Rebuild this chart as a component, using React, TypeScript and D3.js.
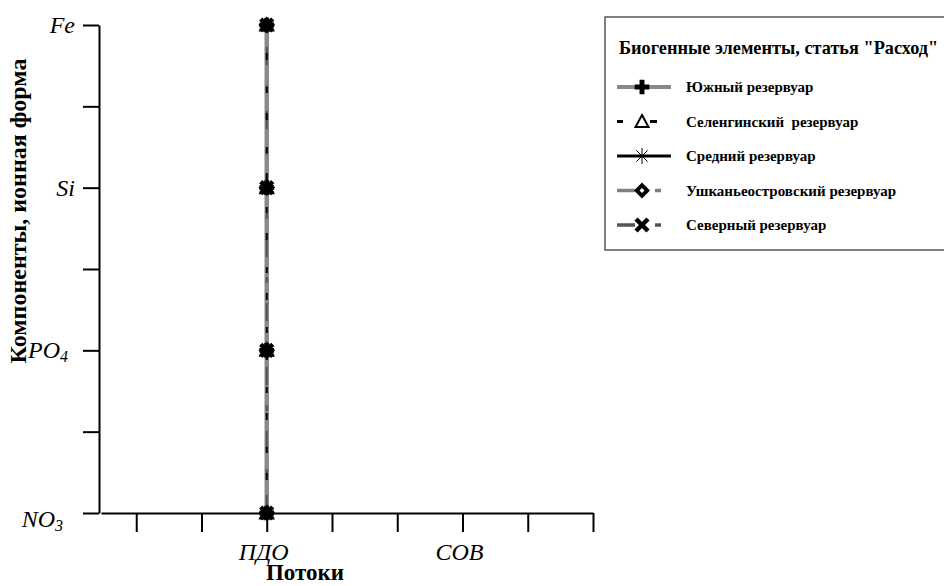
import React, { useRef, useEffect } from 'react';
import * as d3 from 'd3';

// x axis: 8 tick positions, only two are labelled
const flowTicks = ['', '', 'ПДО', '', '', 'СОВ', '', ''];
// y axis: 7 tick positions, every second labelled
const componentTicks = ['NO3', '', 'PO4', '', 'Si', '', 'Fe'];

// every series has one point per component, all on the ПДО flow
const components = ['NO3', 'PO4', 'Si', 'Fe'];
const yuzhny = ['ПДО', 'ПДО', 'ПДО', 'ПДО'];
const selenginsky = ['ПДО', 'ПДО', 'ПДО', 'ПДО'];
const sredny = ['ПДО', 'ПДО', 'ПДО', 'ПДО'];
const ushkany = ['ПДО', 'ПДО', 'ПДО', 'ПДО'];
const severny = ['ПДО', 'ПДО', 'ПДО', 'ПДО'];

const seriesNames = [
  'Южный резервуар',
  'Селенгинский  резервуар',
  'Средний резервуар',
  'Ушканьеостровский резервуар',
  'Северный резервуар',
];
const seriesFlows = [yuzhny, selenginsky, sredny, ushkany, severny];

const legendTitle = 'Биогенные элементы, статья "Расход"';

const serif = 'Liberation Serif';

const styles = [
  { stroke: '#8a8a8a', width: 4, dash: null, marker: 'plus' },
  { stroke: '#000', width: 3, dash: '6,27,7,20', marker: 'triangle' },
  { stroke: '#000', width: 3, dash: null, marker: 'asterisk' },
  { stroke: '#808080', width: 3.5, dash: '18,20,6,20', marker: 'diamond' },
  { stroke: '#555', width: 3.5, dash: '18,20,6,20', marker: 'x' },
];
// order the vertical lines are stacked in the plot (bottom first)
const lineOrder = [2, 0, 3, 4, 1];

function drawMarker(g, kind, cx, cy) {
  const m = g.append('g').attr('transform', `translate(${cx},${cy})`);
  if (kind === 'plus') {
    m.append('path').attr('d', d3.symbol(d3.symbolCross, 120)()).attr('fill', '#000');
  } else if (kind === 'triangle') {
    m.append('path')
      .attr('d', 'M0,-6.5L6.5,5.5L-6.5,5.5Z')
      .attr('fill', '#fff')
      .attr('stroke', '#000')
      .attr('stroke-width', 2);
  } else if (kind === 'asterisk') {
    [0, 45, 90, 135].forEach(a => {
      const r = (a * Math.PI) / 180;
      m.append('line')
        .attr('x1', -8 * Math.cos(r)).attr('y1', -8 * Math.sin(r))
        .attr('x2', 8 * Math.cos(r)).attr('y2', 8 * Math.sin(r))
        .attr('stroke', '#000').attr('stroke-width', 1);
    });
  } else if (kind === 'diamond') {
    m.append('path').attr('d', 'M0,-8L8,0L0,8L-8,0Z').attr('fill', '#000');
    m.append('path').attr('d', 'M0,-2.5L2.5,0L0,2.5L-2.5,0Z').attr('fill', '#fff');
  } else if (kind === 'x') {
    m.append('path')
      .attr('d', 'M-6,-6L6,6M6,-6L-6,6')
      .attr('stroke', '#000')
      .attr('stroke-width', 4.5);
  }
}

const App = () => {
  const ref = useRef(null);

  useEffect(() => {
    const svg = d3.select(ref.current);
    svg.selectAll('*').remove();

    const x = d3.scaleLinear().domain([0.46, flowTicks.length]).range([101, 593]);
    const y = d3.scaleLinear().domain([0, componentTicks.length - 1]).range([513, 25]);
    const xOf = f => x(flowTicks.indexOf(f) + 1);
    const yOf = c => y(componentTicks.indexOf(c));

    // y axis
    svg.append('g')
      .attr('transform', 'translate(99,0)')
      .call(d3.axisLeft(y).tickValues(d3.range(componentTicks.length)).tickSize(16).tickSizeOuter(0).tickFormat(() => ''))
      .call(g => g.selectAll('path, line').attr('stroke', '#000').attr('stroke-width', 2));

    // x axis
    svg.append('g')
      .attr('transform', 'translate(0,513)')
      .call(d3.axisBottom(x).tickValues(d3.range(1, flowTicks.length + 1)).tickSize(19).tickSizeOuter(0).tickFormat(() => ''))
      .call(g => g.selectAll('path, line').attr('stroke', '#000').attr('stroke-width', 2));

    // y tick labels (chemical formulas with subscripts)
    const nudge = { NO3: { x: 63, dy: 14 }, PO4: { x: 68, dy: 8 } };
    componentTicks.forEach((lab, i) => {
      if (!lab) return;
      const n = nudge[lab] || { x: 75, dy: 8 };
      const m = lab.match(/^([A-Za-z]+?)(\d*)$/);
      const t = svg.append('text')
        .attr('x', n.x)
        .attr('y', y(i) + n.dy)
        .attr('text-anchor', 'end')
        .attr('font-family', serif)
        .attr('font-style', 'italic')
        .attr('font-size', 24);
      t.append('tspan').text(m[1]);
      if (m[2]) t.append('tspan').attr('font-size', 16).attr('dy', 4).text(m[2]);
    });

    // x tick labels
    flowTicks.forEach((lab, i) => {
      if (!lab) return;
      svg.append('text')
        .attr('x', x(i + 1) - 3)
        .attr('y', 560)
        .attr('text-anchor', 'middle')
        .attr('font-family', serif)
        .attr('font-style', 'italic')
        .attr('font-size', 24)
        .text(lab);
    });

    // axis titles
    svg.append('text')
      .attr('x', 305)
      .attr('y', 580)
      .attr('text-anchor', 'middle')
      .attr('font-family', serif)
      .attr('font-weight', 'bold')
      .attr('font-size', 23)
      .text('Потоки');

    svg.append('text')
      .attr('transform', 'translate(26,211) rotate(-90)')
      .attr('text-anchor', 'middle')
      .attr('font-family', serif)
      .attr('font-weight', 'bold')
      .attr('font-size', 24)
      .text('Компоненты, ионная форма');

    // series lines
    const line = d3.line().x(d => d.x).y(d => d.y);
    lineOrder.forEach(s => {
      const st = styles[s];
      const flows = seriesFlows[s];
      const pts = components.map((c, i) => ({ x: xOf(flows[i]), y: yOf(c) }));
      svg.append('path')
        .datum(pts)
        .attr('fill', 'none')
        .attr('stroke', st.stroke)
        .attr('stroke-width', s === 0 ? 4.5 : 2)
        .attr('stroke-dasharray', st.dash)
        .attr('d', line);
    });
    // series markers
    seriesFlows.forEach((flows, s) => {
      const g = svg.append('g');
      components.forEach((c, i) => drawMarker(g, styles[s].marker, xOf(flows[i]), yOf(c)));
    });

    // legend
    const lg = svg.append('g');
    lg.append('rect')
      .attr('x', 605).attr('y', 17)
      .attr('width', 400).attr('height', 233)
      .attr('fill', '#fff')
      .attr('stroke', '#555')
      .attr('stroke-width', 1.5);
    lg.append('text')
      .attr('x', 619).attr('y', 54)
      .attr('font-family', serif)
      .attr('font-weight', 'bold')
      .attr('font-size', 18.3)
      .text(legendTitle);
    seriesNames.forEach((name, s) => {
      const st = styles[s];
      const cy = 87 + s * 34.5;
      lg.append('line')
        .attr('x1', 617).attr('x2', 671)
        .attr('y1', cy).attr('y2', cy)
        .attr('stroke', st.stroke)
        .attr('stroke-width', st.width)
        .attr('stroke-dasharray', st.dash);
      drawMarker(lg, st.marker, 642, cy);
      lg.append('text')
        .attr('x', 686).attr('y', cy + 5)
        .attr('font-family', serif)
        .attr('font-weight', 'bold')
        .attr('font-size', 15)
        .style('white-space', 'pre')
        .text(name);
    });
  }, []);

  return (
    <svg
      ref={ref}
      width={944}
      height={586}
      style={{ position: 'absolute', left: 0, top: 0, background: '#fff' }}
    />
  );
};

export default App;
